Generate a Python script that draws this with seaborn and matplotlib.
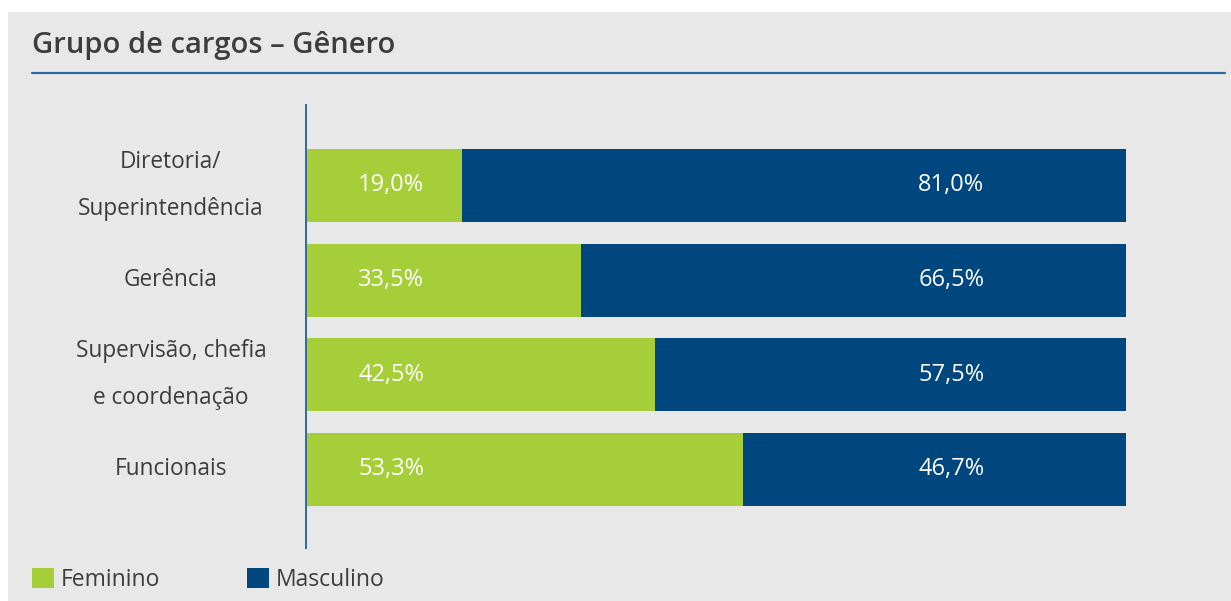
import matplotlib
matplotlib.use("Agg")
import matplotlib.pyplot as plt
from matplotlib.patches import Rectangle, Patch
from matplotlib.lines import Line2D
import seaborn as sns
import pandas as pd

sns.set_theme(style="white")
plt.rcParams["font.family"] = ["Open Sans", "DejaVu Sans"]

# Data
categorias = ["Diretoria/\nSuperintendência", "Gerência",
              "Supervisão, chefia\ne coordenação", "Funcionais"]
feminino = [19.0, 33.5, 42.5, 53.3]
masculino = [81.0, 66.5, 57.5, 46.7]
titulo = "Grupo de cargos – Gênero"

VERDE = "#a6ce39"
AZUL = "#00467f"
LINHA = "#2f6aa3"
FUNDO = "#e8e8e8"
TEXTO = "#3d3d3d"

df = pd.DataFrame({"cargo": categorias, "Feminino": feminino,
                   "Masculino": masculino})
df["total"] = df["Feminino"] + df["Masculino"]

W, H = 1231, 601
fig = plt.figure(figsize=(W / 100, H / 100), dpi=100)
fig.patch.set_facecolor("white")
fig.patches.append(Rectangle((8 / W, 0), 1 - 8 / W, 1 - 12 / H,
                             transform=fig.transFigure, facecolor=FUNDO,
                             edgecolor="none", zorder=-10))

# Title and rule beneath it
fig.text(32 / W, 1 - 45 / H, titulo, fontsize=21, fontweight="semibold",
         color=TEXTO, ha="left", va="center")
fig.add_artist(Line2D([32 / W, 1225 / W], [1 - 73 / H, 1 - 73 / H],
                      transform=fig.transFigure, color=LINHA, lw=1.6))

# Axes spanning the 0–100% scale
ax = fig.add_axes([306 / W, 1 - 548 / H, 820 / W, (548 - 105) / H])
ax.set_facecolor("none")

sns.barplot(data=df, y="cargo", x="total", color=AZUL, orient="h",
            width=0.77, saturation=1, ax=ax, linewidth=0)
sns.barplot(data=df, y="cargo", x="Feminino", color=VERDE, orient="h",
            width=0.77, saturation=1, ax=ax, linewidth=0)

ax.set_xlim(0, 100)
ax.set_ylim(3.83, -0.85)
ax.set_xlabel("")
ax.set_ylabel("")
ax.set_xticks([])
ax.set_yticks([])
for s in ["top", "right", "bottom"]:
    ax.spines[s].set_visible(False)
ax.spines["left"].set_color(LINHA)
ax.spines["left"].set_linewidth(1.4)

# Category labels, centred to the left of the axis
lab_tr = matplotlib.transforms.blended_transform_factory(fig.transFigure, ax.transData)
for i, c in enumerate(categorias):
    ax.text(171 / W, i, c, transform=lab_tr, ha="center", va="center",
            fontsize=16.3, color=TEXTO, linespacing=2.28)

# Value labels inside the bars
for i, (f, m) in enumerate(zip(feminino, masculino)):
    ax.text(10.4, i, f"{f:.1f}%".replace(".", ","), ha="center", va="center",
            fontsize=17, color="white")
    ax.text(78.7, i, f"{m:.1f}%".replace(".", ","), ha="center", va="center",
            fontsize=17, color="white")

# Legend
handles = [Patch(facecolor=VERDE, edgecolor="none", label="Feminino"),
           Patch(facecolor=AZUL, edgecolor="none", label="Masculino")]
fig.legend(handles=handles, loc="center left",
           bbox_to_anchor=(32 / W, 1 - 580 / H), ncol=2, frameon=False,
           fontsize=16.5, handlelength=0.95, handleheight=0.95,
           handletextpad=0.3, columnspacing=3.8, labelcolor=TEXTO,
           borderpad=0, borderaxespad=0)

fig.savefig("out.png", dpi=100, facecolor=fig.get_facecolor())
